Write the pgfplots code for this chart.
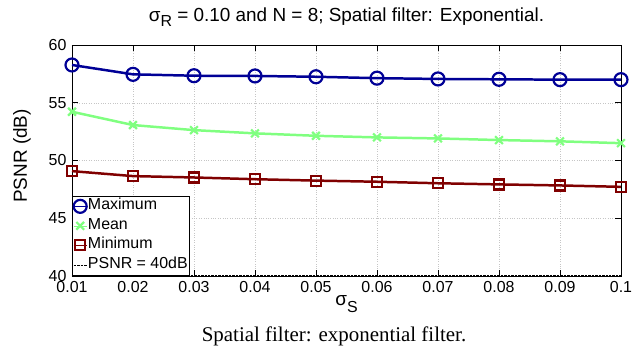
\documentclass[border=0pt]{standalone}
\usepackage{pgfplots}
\pgfplotsset{compat=1.18}
\usepackage{fontspec}
\setmainfont{Liberation Sans}
\newfontfamily\capfont{Liberation Serif}

\definecolor{maxblue}{RGB}{0,0,150}
\definecolor{meangreen}{RGB}{128,255,128}
\definecolor{minred}{RGB}{128,0,0}

\begin{document}
\begin{tikzpicture}
\useasboundingbox (-72bp,-76bp) rectangle (572bp,276bp);
\begin{axis}[
  at={(0,0)}, anchor=south west,
  scale only axis, width=549bp, height=231bp,
  xmin=0.01, xmax=0.1, ymin=40, ymax=60,
  xtick={0.01,0.02,0.03,0.04,0.05,0.06,0.07,0.08,0.09,0.1},
  xticklabels={0.01,0.02,0.03,0.04,0.05,0.06,0.07,0.08,0.09,0.1},
  ytick={40,45,50,55,60},
  tick align=inside,
  major tick length=6bp,
  tick style={black, line width=0.6pt},
  axis line style={line width=0.8pt},
  grid=major,
  grid style={dotted, gray!45, line width=0.5pt},
  /pgf/number format/assume math mode=true,
  tick label style={font=\fontsize{16}{18}\selectfont},
  xticklabel style={yshift=-2bp},
  yticklabel style={xshift=-2bp},
  title={σ\raisebox{-5bp}{\fontsize{16}{16}\selectfont R} = 0.10 and N = 8; Spatial filter: Exponential.},
  title style={font=\fontsize{19}{21}\selectfont,
    at={(axis description cs:0.5,1)}, anchor=base, yshift=18bp},
  xlabel={σ\raisebox{-7bp}{\fontsize{16}{16}\selectfont S}},
  xlabel style={font=\fontsize{19}{21}\selectfont,
    at={(axis description cs:0.5,0)}, anchor=base, yshift=-29bp},
  ylabel={PSNR (dB)},
  ylabel style={font=\fontsize{19}{21}\selectfont,
    at={(axis description cs:-0.0911,0.52)}, anchor=center},
  legend cell align=left,
  legend style={at={(0,0)}, anchor=south west, xshift=0.5bp, yshift=0.5bp,
    font=\fontsize{16}{18}\selectfont, inner sep=0.5bp, row sep=0bp,
    draw=black, line width=0.8pt,
    nodes={inner xsep=1bp, inner ysep=0bp, text height=13bp, text depth=6.5bp}},
  legend image code/.code={%
    \draw[#1,mark=none,line width=0.6pt](0bp,0bp)--(13bp,0bp);
    \draw[#1,only marks] plot coordinates {(6.5bp,0bp)};},
  every axis plot/.append style={line width=2.5pt},
]
\addplot[color=maxblue, mark=o, mark size=6.5bp, mark options={line width=2.2pt}]
coordinates {(0.01,58.27) (0.02,57.46) (0.03,57.34) (0.04,57.32) (0.05,57.25)
 (0.06,57.13) (0.07,57.06) (0.08,57.03) (0.09,57.00) (0.1,57.00)};
\addlegendentry{Maximum}
\addplot[color=meangreen, mark=x, mark size=5.5bp, mark options={line width=2.2pt}]
coordinates {(0.01,54.22) (0.02,53.07) (0.03,52.63) (0.04,52.35) (0.05,52.14)
 (0.06,52.00) (0.07,51.91) (0.08,51.77) (0.09,51.66) (0.1,51.50)};
\addlegendentry{Mean}
\addplot[color=minred, mark=square, mark size=5bp, mark options={line width=2.2pt}]
coordinates {(0.01,49.08) (0.02,48.65) (0.03,48.53) (0.04,48.38) (0.05,48.26)
 (0.06,48.16) (0.07,48.03) (0.08,47.93) (0.09,47.84) (0.1,47.72)};
\addlegendentry{Minimum}
\addplot[color=black, densely dotted, line width=1.5pt, mark=none]
coordinates {(0.01,40) (0.1,40)};
\addlegendentry{PSNR = 40dB}
\end{axis}
\node[font=\capfont\fontsize{21}{23}\selectfont, anchor=base] at (262bp,-65bp) {Spatial filter: exponential filter.};
\end{tikzpicture}
\end{document}
